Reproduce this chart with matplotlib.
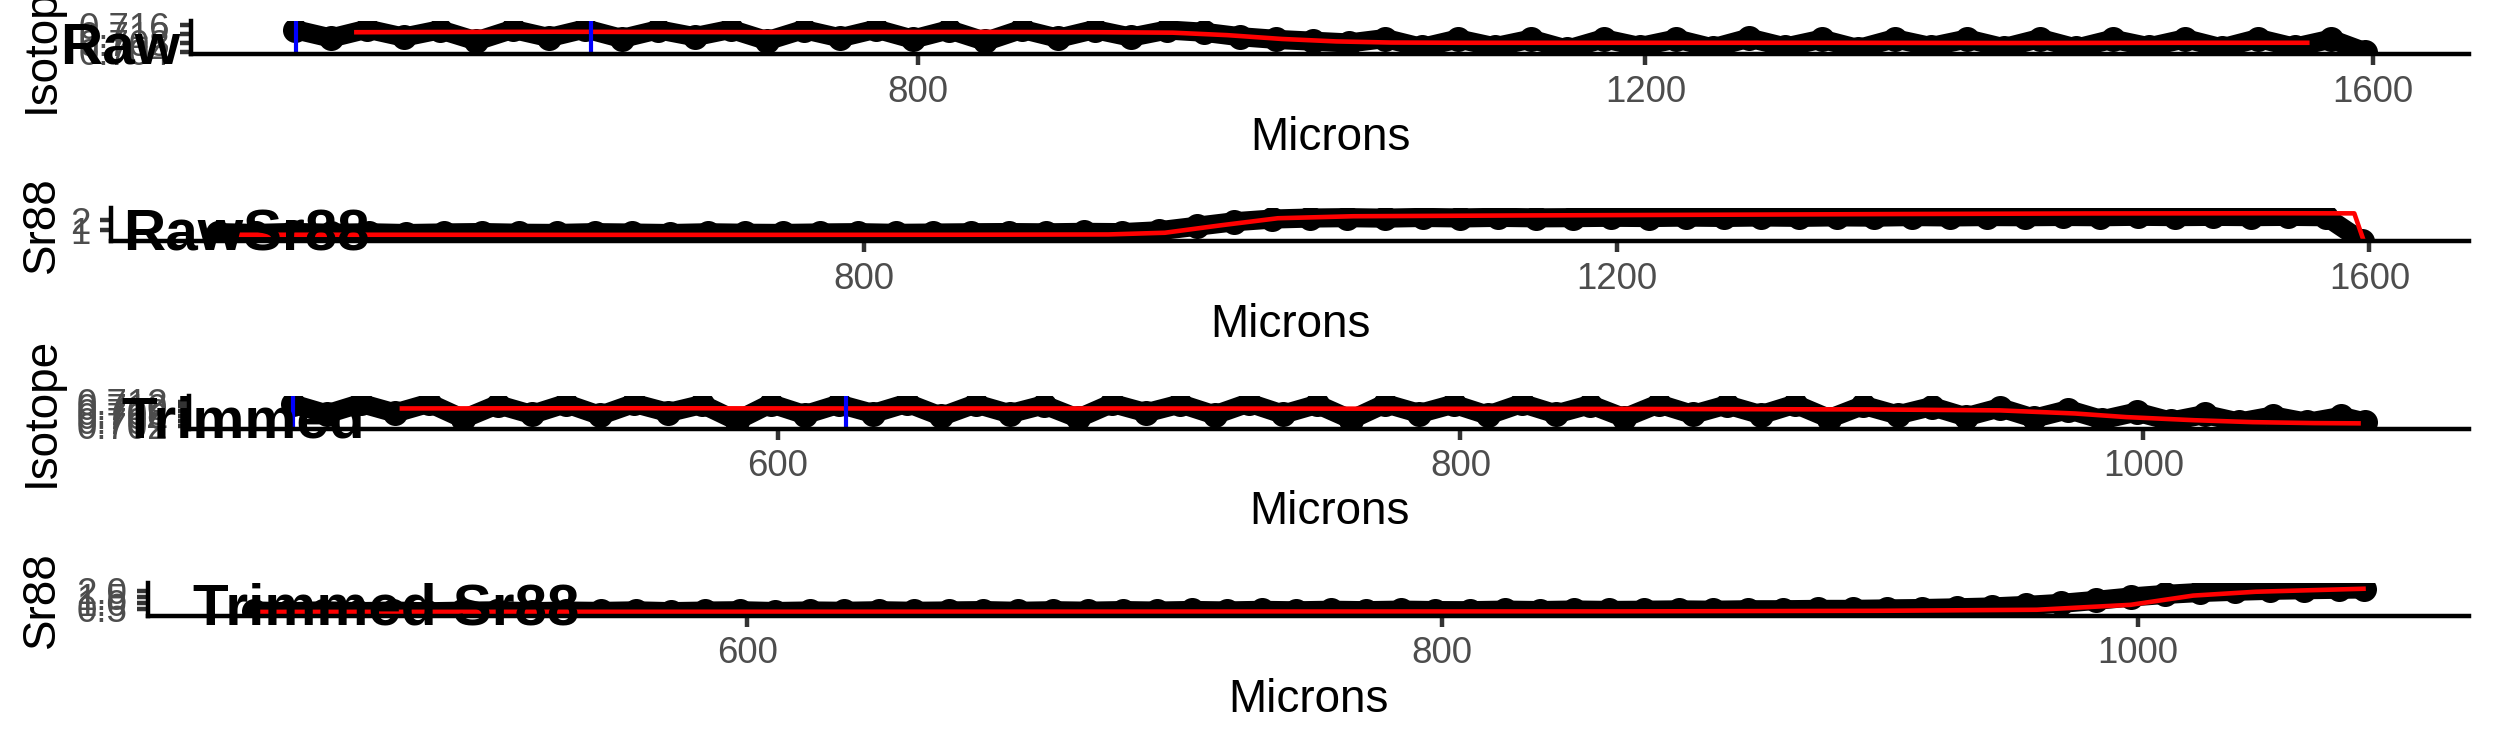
import matplotlib
matplotlib.use("Agg")
import matplotlib.pyplot as plt

plt.rcParams['font.family'] = ['Liberation Sans', 'DejaVu Sans']

W, H = 2495, 749
DPI = 300

# ---- data ----
# raw profile (microns)
raw_um = [457, 477, 497, 517, 537, 557, 577, 597, 617, 637, 657, 677, 697, 717, 737,
          757, 777, 797, 817, 837, 857, 877, 897, 917, 937,
          957, 977, 997, 1017, 1037,
          1057, 1077, 1097, 1117, 1137, 1157, 1177, 1197, 1217, 1237, 1257, 1277, 1297,
          1317, 1337, 1357, 1377, 1397, 1417, 1437, 1457, 1477, 1497, 1517, 1537, 1557, 1577,
          1596]
raw_iso = [0.7140, 0.7102, 0.7142, 0.7106, 0.7139, 0.7089, 0.7141, 0.7104, 0.7143, 0.7100,
           0.7139, 0.7108, 0.7141, 0.7090, 0.7140, 0.7103, 0.7142, 0.7097, 0.7139, 0.7087,
           0.7141, 0.7101, 0.7140, 0.7106, 0.7138,
           0.7128, 0.7108, 0.7096, 0.7088, 0.7080,
           0.7100, 0.7060, 0.7098, 0.7063, 0.7097, 0.7052, 0.7099, 0.7064, 0.7098, 0.7058,
           0.7102, 0.7062, 0.7097, 0.7055, 0.7099, 0.7064, 0.7098, 0.7059, 0.7100, 0.7057,
           0.7097, 0.7063, 0.7099, 0.7058, 0.7100, 0.7061, 0.7097,
           0.7040]
raw_sr88 = [0.76, 0.68, 0.78, 0.70, 0.75, 0.67, 0.73, 0.77, 0.70, 0.68, 0.76, 0.72, 0.67,
            0.75, 0.70, 0.68, 0.73, 0.76, 0.69, 0.72, 0.75, 0.77, 0.74, 0.79, 0.76,
            0.95, 1.40, 1.85, 2.12, 2.22,
            2.26, 2.21, 2.28, 2.23, 2.29, 2.24, 2.26, 2.30, 2.27, 2.32, 2.28, 2.33, 2.29,
            2.34, 2.31, 2.37, 2.33, 2.37, 2.35, 2.38, 2.35, 2.40, 2.36, 2.39, 2.36, 2.39, 2.35,
            -0.05]

raw_iso_fit_um = [491, 540, 600, 660, 720, 780, 840, 900, 940, 970, 1000, 1030, 1060,
                  1100, 1200, 1300, 1400, 1500, 1564]
raw_iso_fit = [0.7128, 0.7129, 0.7130, 0.7129, 0.7128, 0.7129, 0.7129, 0.7128, 0.7126,
               0.7115, 0.7098, 0.7087, 0.7082, 0.7081, 0.7081, 0.7081, 0.7080, 0.7081, 0.7081]
raw_sr_fit_um = [469, 550, 650, 750, 850, 930, 960, 990, 1020, 1060, 1150, 1250, 1350,
                 1450, 1550, 1592, 1597]
raw_sr_fit = [0.55, 0.55, 0.54, 0.54, 0.55, 0.58, 0.75, 1.50, 2.20, 2.40, 2.48, 2.55,
              2.62, 2.68, 2.70, 2.69, -0.05]

# trimmed profile (microns)
trim_um = [458, 468, 478, 488, 498, 508, 518, 528, 538, 548,
           558, 568, 578, 588, 598, 608, 618, 628, 638, 648,
           658, 668, 678, 688, 698, 708, 718, 728, 738, 748,
           758, 768, 778, 788, 798, 808, 818, 828, 838, 848,
           858, 868, 878, 888, 898, 908, 918, 928, 938, 948,
           958, 968, 978, 988, 998, 1008, 1018, 1028, 1038, 1048, 1058,
           1065]
trim_iso = [0.7110, 0.7068, 0.7112, 0.7072, 0.7113, 0.7048, 0.7107, 0.7066, 0.7111, 0.7062,
            0.7112, 0.7074, 0.7108, 0.7040, 0.7111, 0.7065, 0.7109, 0.7070, 0.7113, 0.7058,
            0.7110, 0.7069, 0.7106, 0.7050, 0.7112, 0.7073, 0.7110, 0.7064, 0.7114, 0.7067,
            0.7108, 0.7045, 0.7111, 0.7070, 0.7109, 0.7063, 0.7112, 0.7068, 0.7107, 0.7052,
            0.7110, 0.7066, 0.7106, 0.7065, 0.7109, 0.7049, 0.7104, 0.7064, 0.7099, 0.7056,
            0.7094, 0.7050, 0.7086, 0.7044, 0.7076, 0.7038, 0.7066, 0.7034, 0.7060, 0.7033, 0.7058,
            0.7034]
trim_sr88 = [0.32, 0.25, 0.33, 0.26, 0.31, 0.25, 0.30, 0.33, 0.26, 0.31,
             0.28, 0.33, 0.26, 0.31, 0.34, 0.27, 0.32, 0.29, 0.34, 0.29,
             0.32, 0.35, 0.29, 0.34, 0.30, 0.35, 0.31, 0.36, 0.32, 0.37,
             0.33, 0.38, 0.34, 0.39, 0.35, 0.34, 0.39, 0.35, 0.40, 0.36,
             0.38, 0.41, 0.38, 0.42, 0.42, 0.45, 0.45, 0.49, 0.52, 0.58,
             0.65, 0.78, 0.95, 1.20, 1.48, 1.70, 1.86, 1.96, 2.04, 2.09, 2.13,
             2.15]

trim_iso_fit_um = [490, 550, 620, 700, 780, 850, 920, 958, 980, 995, 1015, 1032, 1050, 1063]
trim_iso_fit = [0.7091, 0.7092, 0.7091, 0.7091, 0.7090, 0.7089, 0.7087, 0.7083, 0.7070,
                0.7055, 0.7042, 0.7034, 0.7030, 0.7029]
trim_sr_fit_um = [460, 550, 650, 750, 850, 925, 971, 998, 1016, 1034, 1050, 1065]
trim_sr_fit = [0.24, 0.25, 0.26, 0.27, 0.28, 0.33, 0.42, 0.83, 1.60, 1.92, 2.05, 2.17]

cut_lines = [458, 620]   # blue markers on the isotope panels

panel_labels = ["Raw", "RawSr88", "Trimmed", "Trimmed Sr88"]
y_titles = ["Isotope", "Sr88", "Isotope", "Sr88"]
x_ticks = [[800, 1200, 1600], [800, 1200, 1600], [600, 800, 1000], [600, 800, 1000]]
y_ticks = [[0.704, 0.708, 0.712, 0.716], [1, 2],
           [0.702, 0.704, 0.706, 0.708, 0.710, 0.712], [0.5, 1.0, 1.5, 2.0]]
y_ticklabels = [["0.704", "0.708", "0.712", "0.716"], ["1", "2"],
                ["0.702", "0.704", "0.706", "0.708", "0.710", "0.712"],
                ["0.5", "1.0", "1.5", "2.0"]]
y_limits = [(0.7031, 0.7178), (-0.1, 3.2), (0.70075, 0.7145), (-0.08, 2.67)]

panels = [
    (raw_um, raw_iso, raw_iso_fit_um, raw_iso_fit, True),
    (raw_um, raw_sr88, raw_sr_fit_um, raw_sr_fit, False),
    (trim_um, trim_iso, trim_iso_fit_um, trim_iso_fit, True),
    (trim_um, trim_sr88, trim_sr_fit_um, trim_sr_fit, False),
]

# layout in pixels: left edge of each panel, all panels end at 2469
lefts = [191, 111, 189, 148]
RIGHT = 2469
row_h = H / 4

fig = plt.figure(figsize=(W / DPI, H / DPI), dpi=DPI)

for i, (xs, ys, fx, fy, vlines) in enumerate(panels):
    row = i * row_h
    top, bot = row + 21, row + 54
    ax = fig.add_axes([lefts[i] / W, 1 - bot / H, (RIGHT - lefts[i]) / W, (bot - top) / H])

    ax.plot(xs, ys, color='black', lw=4.6, marker='o', ms=5.0, solid_capstyle='round',
            solid_joinstyle='round')
    ax.plot(fx, fy, color='red', lw=1.1)
    if vlines:
        for v in cut_lines:
            ax.axvline(v, color='blue', lw=1.0)

    span = max(xs) - min(xs)
    ax.set_xlim(min(xs) - 0.05 * span, max(xs) + 0.05 * span)
    ax.set_ylim(*y_limits[i])
    ax.set_xticks(x_ticks[i])
    ax.set_yticks(y_ticks[i], labels=y_ticklabels[i])

    for s in ['top', 'right']:
        ax.spines[s].set_visible(False)
    for s in ['left', 'bottom']:
        ax.spines[s].set_linewidth(1.07)
        ax.spines[s].set_color('black')
    ax.tick_params(length=2.75, width=1.07, color='#333333', labelcolor='#4D4D4D',
                   labelsize=8.8, pad=2.2)
    ax.patch.set_visible(False)

    # axis titles
    fig.text((lefts[i] + RIGHT) / 2 / W, 1 - (row + 138) / H, "Microns",
             ha='center', va='center', fontsize=11)
    fig.text(42 / W, 1 - (row + 37.5) / H, y_titles[i], rotation=90,
             ha='center', va='center', fontsize=11)

# panel labels, shifted right by half their width
renderer = fig.canvas.get_renderer()
for i, lab in enumerate(panel_labels):
    t = fig.text(0, 1 - (i * row_h + 63) / H, lab, fontsize=14, fontweight='bold',
                 ha='left', va='baseline')
    w = t.get_window_extent(renderer=renderer).width
    t.set_x(0.5 * w / W)

fig.savefig("out.png", dpi=DPI)
